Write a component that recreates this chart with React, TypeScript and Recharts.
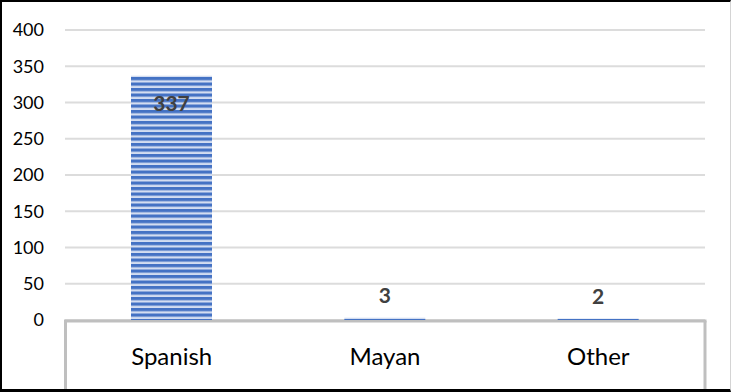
import { Bar, BarChart, CartesianGrid, LabelList, XAxis, YAxis, usePlotArea } from "recharts";

const languages = ["Spanish", "Mayan", "Other"];
const speakers = [337, 3, 2];
const yTicks = [0, 50, 100, 150, 200, 250, 300, 350, 400];

const data = languages.map((name, i) => ({ name, value: speakers[i] }));

const FONT = "Lato, 'Open Sans', sans-serif";

function CategoryTick(props: any) {
	const { x, y, payload } = props;
	return (
		<text x={x} y={y} dy={27} textAnchor="middle" dominantBaseline="central" fill="#000" fontSize={24} fontFamily={FONT}>
			{payload.value}
		</text>
	);
}

function ValueLabel(props: any) {
	const { x, y, width, height, value } = props;
	const inside = height > 40;
	return (
		<text
			x={x + width / 2}
			y={inside ? y + 27 : y - 23}
			textAnchor="middle"
			dominantBaseline="central"
			fill="#404040"
			fontWeight="bold"
			fontSize={21}
			fontFamily={FONT}
		>
			{value}
		</text>
	);
}

// gray box under the plot that frames the category labels
function AxisFrame() {
	const area = usePlotArea();
	if (!area) return null;
	const left = area.x + 0.5;
	const right = area.x + area.width;
	const base = area.y + area.height + 1;
	return (
		<g stroke="#bfbfbf" strokeWidth={3} fill="none">
			<line x1={left - 1.5} y1={base} x2={right + 1.5} y2={base} />
			<line x1={left} y1={base} x2={left} y2={392} />
			<line x1={right} y1={base} x2={right} y2={392} />
		</g>
	);
}

export default function App() {
	return (
		<div style={{ position: "absolute", left: 0, top: 0, width: 731, height: 392, background: "#fff" }}>
			<BarChart width={731} height={392} data={data} margin={{ top: 30, right: 26, left: 0, bottom: 0 }}>
				<defs>
					<pattern id="stripes" width={8} height={5.5} patternUnits="userSpaceOnUse">
						<rect width={8} height={5.5} fill="#d3ddf1" />
						<rect width={8} height={3.2} fill="#4472c4" />
					</pattern>
				</defs>
				<CartesianGrid vertical={false} stroke="#dcdcdc" strokeWidth={2} />
				<XAxis dataKey="name" height={72} axisLine={false} tickLine={false} tick={<CategoryTick />} interval={0} />
				<YAxis
					width={65}
					domain={[0, 400]}
					ticks={yTicks}
					axisLine={false}
					tickLine={false}
					tickMargin={15}
					tick={{ fill: "#000", fontSize: 18, fontFamily: FONT }}
				/>
				<Bar dataKey="value" fill="url(#stripes)" barSize={81} isAnimationActive={false}>
					<LabelList dataKey="value" content={<ValueLabel />} />
				</Bar>
				<AxisFrame />
			</BarChart>
			<div
				style={{
					position: "absolute",
					inset: 0,
					boxSizing: "border-box",
					borderTop: "2px solid #000",
					borderLeft: "2px solid #000",
					borderBottom: "3px solid #000",
					borderRight: "1px solid #d4d4d4",
					pointerEvents: "none",
				}}
			/>
		</div>
	);
}
